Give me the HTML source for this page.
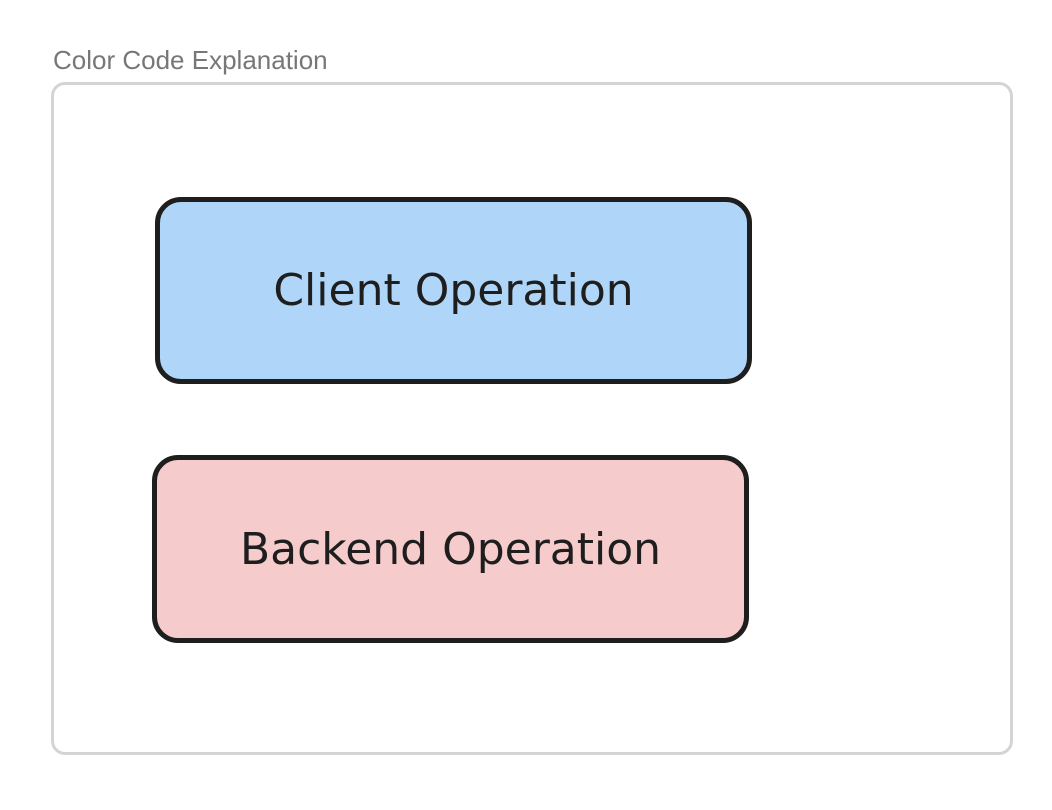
<!DOCTYPE html>
<html><head><style>
html,body{margin:0;padding:0;background:#fff;width:1052px;height:810px;overflow:hidden;font-family:"Liberation Sans",sans-serif}
.title{position:absolute;left:53px;top:45px;font-size:26px;color:#777}
.frame{position:absolute;left:51px;top:82px;width:962px;height:673px;border:3px solid #d4d4d4;border-radius:14px;box-sizing:border-box}
.box{position:absolute;border:5px solid #1e1e1e;border-radius:26px;box-sizing:border-box;display:flex;align-items:center;justify-content:center;font-family:"Comic Sans MS","DejaVu Sans",sans-serif;font-size:44px;color:#1e1e1e}
</style></head><body>
<div class="title">Color Code Explanation</div>
<div class="frame"></div>
<div class="box" style="left:155px;top:197px;width:597px;height:187px;background:#afd6f8">Client Operation</div>
<div class="box" style="left:152px;top:455px;width:597px;height:188px;background:#f6cbcb">Backend Operation</div>
</body></html>
